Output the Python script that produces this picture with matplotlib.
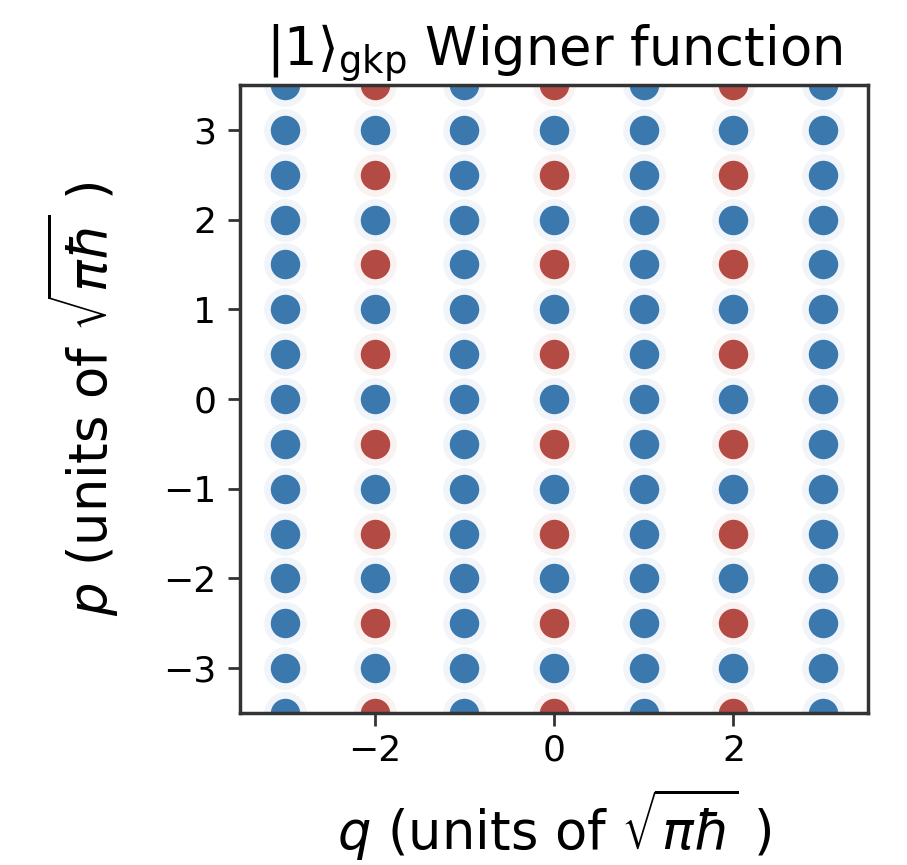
import matplotlib
matplotlib.use('Agg')
import matplotlib.pyplot as plt
import numpy as np

# GKP |1> Wigner function: peak lattice in units of sqrt(pi*hbar)
q_points = [-3, -2, -1, 0, 1, 2, 3]
p_points = [-3.5, -3.0, -2.5, -2.0, -1.5, -1.0, -0.5, 0.0,
            0.5, 1.0, 1.5, 2.0, 2.5, 3.0, 3.5]
# negative peaks sit at even q and half-odd p
neg_q = [-2, 0, 2]
neg_p = [-3.5, -2.5, -1.5, -0.5, 0.5, 1.5, 2.5, 3.5]

x_ticks = [-2, 0, 2]
y_ticks = [-3, -2, -1, 0, 1, 2, 3]

blue = '#3a78ae'
red = '#b44a44'

qq, pp = np.meshgrid(q_points, p_points)
qq = qq.ravel()
pp = pp.ravel()
neg = np.array([(q in neg_q) and (p in neg_p) for q, p in zip(qq, pp)])

fig = plt.figure(figsize=(9.07, 8.65), dpi=100)
ax = fig.add_axes([0.2646, 0.1757, 0.6924, 0.726])

# soft halo under each peak
ax.scatter(qq[~neg], pp[~neg], s=950, color=blue, alpha=0.07, linewidths=0)
ax.scatter(qq[neg], pp[neg], s=950, color=red, alpha=0.07, linewidths=0)
ax.scatter(qq[~neg], pp[~neg], s=450, color=blue, linewidths=0)
ax.scatter(qq[neg], pp[neg], s=450, color=red, linewidths=0)

ax.set_xlim(-3.5, 3.5)
ax.set_ylim(-3.5, 3.5)
ax.set_xticks(x_ticks)
ax.set_yticks(y_ticks)
ax.tick_params(labelsize=26, length=9, width=2, color='#333333', pad=8)
ax.tick_params(axis='x', pad=6)
for s in ax.spines.values():
    s.set_linewidth(2.5)
    s.set_color('#333333')

ax.set_title(r'$|1\rangle_{\mathrm{gkp}}$ Wigner function', fontsize=38, pad=3)
ax.set_xlabel(r'$q$ (units of $\sqrt{\pi\hbar}$ )', fontsize=38, labelpad=14)
ax.set_ylabel(r'$p$ (units of $\sqrt{\pi\hbar}$ )', fontsize=38, labelpad=30)

fig.savefig('out.png', dpi=100)
